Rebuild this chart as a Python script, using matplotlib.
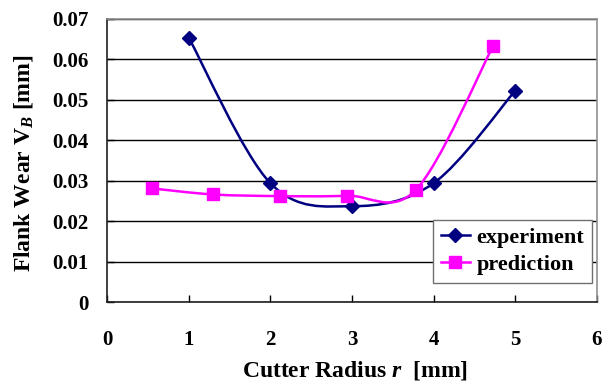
import numpy as np
import matplotlib
matplotlib.use("Agg")
import matplotlib.pyplot as plt
from matplotlib.path import Path
from matplotlib.patches import PathPatch
from matplotlib.lines import Line2D

exp_x = [1.0, 2.0, 3.0, 4.0, 5.0]
exp_y = [0.0654, 0.0294, 0.0237, 0.0294, 0.0523]
pred_x = [0.55, 1.30, 2.12, 2.94, 3.78, 4.73]
pred_y = [0.0281, 0.0266, 0.0262, 0.0263, 0.0277, 0.0634]
x_ticks = [0, 1, 2, 3, 4, 5, 6]
y_ticks = [0, 0.01, 0.02, 0.03, 0.04, 0.05, 0.06, 0.07]
y_tick_labels = ["0", "0.01", "0.02", "0.03", "0.04", "0.05", "0.06", "0.07"]

plt.rcParams['font.family'] = ['Liberation Serif', 'DejaVu Serif']
plt.rcParams['font.weight'] = 'bold'
plt.rcParams['mathtext.fontset'] = 'custom'
plt.rcParams['mathtext.rm'] = 'Liberation Serif:bold'
plt.rcParams['mathtext.it'] = 'Liberation Serif:italic:bold'
plt.rcParams['mathtext.bf'] = 'Liberation Serif:bold'

fig = plt.figure(figsize=(6.13, 3.85), dpi=100)
ax = fig.add_axes([107/613, 1 - 302/385, 490/613, 283/385])


def smooth_path(xs, ys):
    pts = np.column_stack([xs, ys])
    n = len(pts)
    verts = [pts[0]]
    codes = [Path.MOVETO]
    for i in range(n - 1):
        p0 = pts[i - 1] if i > 0 else pts[i]
        p1 = pts[i]
        p2 = pts[i + 1]
        p3 = pts[i + 2] if i + 2 < n else pts[i + 1]
        c1 = p1 + (p2 - p0) / 6.0
        c2 = p2 - (p3 - p1) / 6.0
        verts += [c1, c2, p2]
        codes += [Path.CURVE4] * 3
    return Path(verts, codes)


exp_color = '#000080'
pred_color = '#FF00FF'

ax.add_patch(PathPatch(smooth_path(exp_x, exp_y), fill=False, edgecolor=exp_color, lw=1.8, zorder=3))
ax.add_patch(PathPatch(smooth_path(pred_x, pred_y), fill=False, edgecolor=pred_color, lw=1.8, zorder=3))
ax.plot(exp_x, exp_y, linestyle='none', marker='D', ms=7, color=exp_color, zorder=4)
ax.plot(pred_x, pred_y, linestyle='none', marker='s', ms=8.5, color=pred_color, zorder=4)

ax.set_xlim(0, 6)
ax.set_ylim(0, 0.07)
ax.set_xticks(x_ticks)
ax.set_yticks(y_ticks)
ax.set_yticklabels(y_tick_labels)
ax.yaxis.grid(True, color='black', lw=1.0)
ax.set_axisbelow(True)
ax.tick_params(axis='both', direction='in', length=5, labelsize=15, width=1)
ax.tick_params(axis='x', pad=20)
ax.tick_params(axis='y', pad=13)
for lab in ax.get_xticklabels() + ax.get_yticklabels():
    lab.set_fontweight('bold')
ax.spines['top'].set_color('#909090')
ax.spines['right'].set_color('#909090')
ax.spines['left'].set_color('#202020')
ax.spines['bottom'].set_color('#202020')
for s in ax.spines.values():
    s.set_linewidth(1.2)

ax.set_xlabel('Cutter Radius ' + r'$\mathit{r}$' + '  [mm]', fontsize=17, fontweight='bold')
ax.set_ylabel('Flank Wear V' + r'$_{\mathit{B}}$' + ' [mm]', fontsize=17, fontweight='bold')
ax.xaxis.set_label_coords(0.506, -0.2)
ax.yaxis.set_label_coords(-0.147, 0.49)

handles = [
    Line2D([], [], color=exp_color, marker='D', ms=7, lw=1.8, label='experiment'),
    Line2D([], [], color=pred_color, marker='s', ms=8.5, lw=1.8, label='prediction'),
]
leg = ax.legend(handles=handles, loc='lower right', bbox_to_anchor=(0.99, 0.067),
                prop={'family': 'Liberation Serif', 'weight': 'bold', 'size': 16},
                frameon=True, fancybox=False, edgecolor='#707070', framealpha=1,
                handlelength=1.3, handletextpad=0.3, borderpad=0.35, labelspacing=0.3,
                borderaxespad=0)
leg.get_frame().set_linewidth(1.0)

fig.savefig('out.png', dpi=100)
